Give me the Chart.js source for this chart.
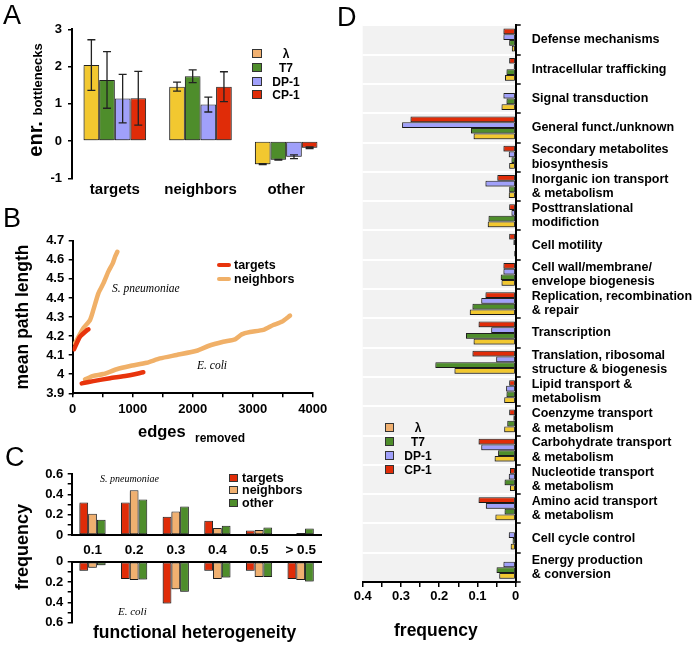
<!DOCTYPE html>
<html>
<head>
<meta charset="utf-8">
<title>Figure</title>
<script src="https://cdn.jsdelivr.net/npm/chart.js@4.4.1/dist/chart.umd.min.js"></script>
<style>
html,body{margin:0;padding:0;background:#fff;}
body{position:relative;width:697px;height:645px;overflow:hidden;font-family:"Liberation Sans",Arial,Helvetica,sans-serif;color:#000;}
canvas{position:absolute;}
.t{position:absolute;white-space:nowrap;line-height:1;font-weight:bold;}
.L{position:absolute;white-space:nowrap;line-height:1;font-weight:normal;font-size:27px;}
.it{position:absolute;white-space:nowrap;line-height:1;font-family:"Liberation Serif","Times New Roman",serif;font-style:italic;}
.sw{position:absolute;border:1px solid #333;box-sizing:border-box;}
.rot{position:absolute;white-space:nowrap;line-height:1;font-weight:bold;transform:translate(-50%,-50%) rotate(-90deg);}
.lg{position:absolute;white-space:nowrap;font-weight:bold;font-size:12px;line-height:14px;}
.ln{position:absolute;height:4px;border-radius:2px;}
</style>
</head>
<body>
<canvas id="cA" width="340" height="200" style="left:0;top:0"></canvas>
<canvas id="cB" width="340" height="245" style="left:0;top:200px"></canvas>
<canvas id="cC1" width="340" height="125" style="left:0;top:440px"></canvas>
<canvas id="cC2" width="340" height="90" style="left:0;top:545px"></canvas>
<canvas id="cD" width="357" height="645" style="left:340px;top:0"></canvas>

<!-- panel letters -->
<div class="L" style="left:3px;top:2px">A</div>
<div class="L" style="left:3px;top:204.5px">B</div>
<div class="L" style="left:5px;top:443.5px">C</div>
<div class="L" style="left:337px;top:3.5px">D</div>

<!-- axis titles -->
<div class="rot" style="left:35px;top:100px;font-size:20px">enr. <span style="font-size:13px">bottlenecks</span></div>
<div class="rot" style="left:23.3px;top:316.5px;font-size:17.5px">mean path length</div>
<div class="rot" style="left:22px;top:546.5px;font-size:18px">frequency</div>
<div class="t" style="left:138px;top:422.7px;font-size:16.5px">edges</div>
<div class="t" style="left:195px;top:431.5px;font-size:12px">removed</div>
<div class="t" style="left:93px;top:624.2px;font-size:17.5px">functional heterogeneity</div>
<div class="t" style="left:394px;top:621.5px;font-size:17.5px">frequency</div>

<!-- annotations -->
<div class="it" style="left:112px;top:283.1px;font-size:11.5px">S. pneumoniae</div>
<div class="it" style="left:197px;top:360.4px;font-size:11.5px">E. coli</div>
<div class="it" style="left:100px;top:473.5px;font-size:10px">S. pneumoniae</div>
<div class="it" style="left:118px;top:605.8px;font-size:11px">E. coli</div>

<!-- legend A -->
<div class="sw" style="left:252px;top:49px;width:10px;height:9px;background:#f0b070"></div>
<div class="lg" style="left:286px;top:46.5px;transform:translateX(-50%)">λ</div>
<div class="sw" style="left:252px;top:63px;width:10px;height:9px;background:#4e8d2b"></div>
<div class="lg" style="left:286px;top:60.5px;transform:translateX(-50%)">T7</div>
<div class="sw" style="left:252px;top:77px;width:10px;height:9px;background:#a0a0fa"></div>
<div class="lg" style="left:286px;top:74.5px;transform:translateX(-50%)">DP-1</div>
<div class="sw" style="left:252px;top:90px;width:10px;height:9px;background:#e02c08"></div>
<div class="lg" style="left:286px;top:87.5px;transform:translateX(-50%)">CP-1</div>

<!-- legend B -->
<div class="ln" style="left:217px;top:263px;width:14px;background:#e8340c"></div>
<div class="lg" style="left:234px;top:258px;font-size:12.5px">targets</div>
<div class="ln" style="left:217px;top:277px;width:14px;background:#f0b068"></div>
<div class="lg" style="left:234px;top:272px;font-size:12.5px">neighbors</div>

<!-- legend C -->
<div class="sw" style="left:229px;top:474px;width:9px;height:8px;background:#e02c08"></div>
<div class="lg" style="left:242px;top:471px;font-size:12.5px">targets</div>
<div class="sw" style="left:229px;top:486px;width:9px;height:8px;background:#f0b070"></div>
<div class="lg" style="left:242px;top:483px;font-size:12.5px">neighbors</div>
<div class="sw" style="left:229px;top:499px;width:9px;height:8px;background:#4e8d2b"></div>
<div class="lg" style="left:242px;top:496px;font-size:12.5px">other</div>

<!-- legend D -->
<div class="sw" style="left:385px;top:423px;width:9px;height:9px;background:#f0b070"></div>
<div class="lg" style="left:418px;top:420.5px;transform:translateX(-50%)">λ</div>
<div class="sw" style="left:385px;top:437px;width:9px;height:9px;background:#4e8d2b"></div>
<div class="lg" style="left:418px;top:434.5px;transform:translateX(-50%)">T7</div>
<div class="sw" style="left:385px;top:451px;width:9px;height:9px;background:#a0a0fa"></div>
<div class="lg" style="left:418px;top:448.5px;transform:translateX(-50%)">DP-1</div>
<div class="sw" style="left:385px;top:465px;width:9px;height:9px;background:#e02c08"></div>
<div class="lg" style="left:418px;top:462.5px;transform:translateX(-50%)">CP-1</div>

<script>
// ---------- Panel A data ----------
const catsA = ['targets', 'neighbors', 'other'];
const lambdaA = [2.04, 1.46, -0.62];
const t7A = [1.64, 1.74, -0.50];
const dp1A = [1.14, 0.98, -0.42];
const cp1A = [1.15, 1.46, -0.18];
const lambdaErrA = [0.68, 0.12, 0.01];
const t7ErrA = [0.76, 0.17, 0.01];
const dp1ErrA = [0.65, 0.20, 0.05];
const cp1ErrA = [0.72, 0.40, 0.02];

// ---------- Panel B data ----------
const spTargetsEdges = [22, 122, 243, 261];
const spTargetsLen = [4.131, 4.197, 4.232, 4.235];
const spNeighEdges = [38, 177, 288, 344, 428, 511, 594, 667, 706, 744];
const spNeighLen = [4.162, 4.241, 4.284, 4.337, 4.424, 4.476, 4.538, 4.581, 4.616, 4.642];
const ecTargetsEdges = [150, 343, 622, 900, 1177];
const ecTargetsLen = [3.952, 3.964, 3.979, 3.992, 4.010];
const ecNeighEdges = [205, 343, 510, 733, 955, 1233, 1455, 1733, 2067, 2260, 2510, 2705, 2817, 2955, 3177, 3343, 3483, 3622];
const ecNeighLen = [3.973, 3.991, 4.001, 4.026, 4.043, 4.060, 4.083, 4.101, 4.123, 4.148, 4.170, 4.183, 4.209, 4.221, 4.232, 4.258, 4.275, 4.307];

// ---------- Panel C data ----------
const catsC = ['0.1', '0.2', '0.3', '0.4', '0.5', '> 0.5'];
const spTargetsC = [0.32, 0.32, 0.18, 0.14, 0.045, 0.005];
const spNeighborsC = [0.21, 0.44, 0.23, 0.07, 0.05, 0.02];
const spOtherC = [0.15, 0.35, 0.28, 0.09, 0.075, 0.065];
const ecTargetsC = [0.09, 0.17, 0.41, 0.09, 0.09, 0.17];
const ecNeighborsC = [0.06, 0.18, 0.27, 0.17, 0.15, 0.18];
const ecOtherC = [0.035, 0.175, 0.295, 0.155, 0.15, 0.195];

// ---------- Panel D data ----------
const catsD = [
  'Defense mechanisms',
  'Intracellular trafficking',
  'Signal transduction',
  'General funct./unknown',
  ['Secondary metabolites', 'biosynthesis'],
  ['Inorganic ion transport', '& metabolism'],
  ['Posttranslational', 'modifiction'],
  'Cell motility',
  ['Cell wall/membrane/', 'envelope biogenesis'],
  ['Replication, recombination', '& repair'],
  'Transcription',
  ['Translation, ribosomal', 'structure & biogenesis'],
  ['Lipid transport &', 'metabolism'],
  ['Coenzyme transport', '& metabolism'],
  ['Carbohydrate transport', '& metabolism'],
  ['Nucleotide transport', '& metabolism'],
  ['Amino acid transport', '& metabolism'],
  'Cell cycle control',
  ['Energy production', '& conversion']
];
const cp1D = [0.032, 0.017, 0, 0.275, 0.032, 0.048, 0.017, 0.017, 0.032, 0.079, 0.097, 0.113, 0.017, 0.017, 0.097, 0.015, 0.097, 0, 0];
const dp1D = [0.032, 0.005, 0.032, 0.297, 0.018, 0.079, 0.011, 0.006, 0.032, 0.090, 0.064, 0.051, 0.025, 0.006, 0.090, 0.018, 0.078, 0.018, 0.032];
const t7D = [0.017, 0.024, 0.024, 0.117, 0.011, 0.017, 0.071, 0.002, 0.039, 0.113, 0.130, 0.210, 0.024, 0.022, 0.046, 0.029, 0.029, 0.008, 0.050];
const lambdaD = [0.010, 0.028, 0.037, 0.110, 0.017, 0.018, 0.073, 0.004, 0.037, 0.120, 0.110, 0.160, 0.030, 0.030, 0.055, 0.015, 0.053, 0.013, 0.043];

// ---------- styling ----------
const YEL = '#f2c830', GRN = '#4e8d2b', BLU = '#a0a0fa', RED = '#e02c08', ORA = '#f0b070';
const LRED = '#e8340c', LORA = '#f0b068';
Chart.defaults.font.family = '"Liberation Sans", Arial, Helvetica, sans-serif';
Chart.defaults.font.weight = 'bold';
Chart.defaults.color = '#000';

const shadowPlugin = {
  id: 'shadow',
  beforeDatasetsDraw(c) { const x = c.ctx; x.save(); x.shadowColor = 'rgba(0,0,0,0.35)'; x.shadowBlur = 2; x.shadowOffsetX = -1; x.shadowOffsetY = 1.5; },
  afterDatasetsDraw(c) { c.ctx.restore(); }
};
const errPlugin = {
  id: 'errbars',
  afterDatasetsDraw(chart) {
    const ctx = chart.ctx, ys = chart.scales.y;
    chart.data.datasets.forEach((ds, i) => {
      if (!ds.err) return;
      chart.getDatasetMeta(i).data.forEach((bar, j) => {
        const v = ds.data[j], e = ds.err[j];
        const y1 = ys.getPixelForValue(v + e), y2 = ys.getPixelForValue(v - e);
        ctx.save(); ctx.strokeStyle = '#222'; ctx.lineWidth = 1.3;
        ctx.beginPath();
        ctx.moveTo(bar.x, y1); ctx.lineTo(bar.x, y2);
        ctx.moveTo(bar.x - 4, y1); ctx.lineTo(bar.x + 4, y1);
        ctx.moveTo(bar.x - 4, y2); ctx.lineTo(bar.x + 4, y2);
        ctx.stroke(); ctx.restore();
      });
    });
  }
};
const bgPlugin = {
  id: 'bg',
  beforeDraw(c) { const a = c.chartArea, x = c.ctx; x.save(); x.fillStyle = '#f2f2f2'; x.fillRect(a.left, a.top, a.right - a.left, a.bottom - a.top); x.restore(); }
};
const barStyle = (d, cp) => Object.assign(d, { borderColor: '#222', borderWidth: 1, borderSkipped: false, barPercentage: 1, categoryPercentage: cp });
const noPlug = { legend: { display: false }, tooltip: { enabled: false } };
const yTickGrid = { drawOnChartArea: false, color: '#000', tickColor: '#000', tickLength: 4, lineWidth: 1.5 };
const axBorder = { color: '#000', width: 2 };

// ---------- Panel A ----------
new Chart(document.getElementById('cA'), {
  type: 'bar',
  data: { labels: catsA, datasets: [
    { label: 'λ', data: lambdaA, err: lambdaErrA, backgroundColor: YEL },
    { label: 'T7', data: t7A, err: t7ErrA, backgroundColor: GRN },
    { label: 'DP-1', data: dp1A, err: dp1ErrA, backgroundColor: BLU },
    { label: 'CP-1', data: cp1A, err: cp1ErrA, backgroundColor: RED }
  ].map(d => barStyle(d, 0.73)) },
  options: {
    responsive: false, animation: false,
    layout: { padding: { top: 29.3, right: 11, left: 0, bottom: 0 } },
    plugins: noPlug,
    scales: {
      x: { grid: { display: false, drawTicks: false }, border: { display: false },
           ticks: { font: { size: 15, weight: 'bold' }, padding: 3 }, afterFit: s => { s.height = 21.7; } },
      y: { min: -1, max: 3, ticks: { stepSize: 1, font: { size: 13, weight: 'bold' }, padding: 6 },
           grid: yTickGrid, border: axBorder, afterFit: s => { s.width = 72; } }
    }
  },
  plugins: [shadowPlugin, errPlugin]
});

// ---------- Panel B ----------
const pts = (xs, ys) => xs.map((x, i) => ({ x: x, y: ys[i] }));
const lineDs = (label, data, color) => ({ label, data, borderColor: color, borderWidth: 4.5, pointRadius: 0, borderCapStyle: 'round', borderJoinStyle: 'round', tension: 0.2, fill: false });
new Chart(document.getElementById('cB'), {
  type: 'line',
  data: { datasets: [
    lineDs('targets', pts(spTargetsEdges, spTargetsLen), LRED),
    lineDs('targets', pts(ecTargetsEdges, ecTargetsLen), LRED),
    lineDs('neighbors', pts(spNeighEdges, spNeighLen), LORA),
    lineDs('neighbors', pts(ecNeighEdges, ecNeighLen), LORA)
  ] },
  options: {
    responsive: false, animation: false,
    layout: { padding: { top: 40.7, right: 27.3, left: 0, bottom: 0 } },
    plugins: noPlug,
    scales: {
      x: { type: 'linear', min: 0, max: 4000,
           ticks: { stepSize: 500, autoSkip: false, maxRotation: 0, font: { size: 13, weight: 'bold' }, padding: 4,
                    callback: v => (v % 1000 === 0 ? String(v) : '') },
           grid: yTickGrid, border: axBorder, afterFit: s => { s.height = 51.7; } },
      y: { min: 3.9, max: 4.7,
           ticks: { stepSize: 0.1, font: { size: 13, weight: 'bold' }, padding: 4.5, callback: v => String(+v.toFixed(1)) },
           grid: yTickGrid, border: axBorder, afterFit: s => { s.width = 72.7; } }
    }
  }
});

// ---------- Panel C ----------
const evenTick = v => (Math.round(v * 10) % 2 === 0 ? String(Math.round(v * 10) / 10) : '');
new Chart(document.getElementById('cC1'), {
  type: 'bar',
  data: { labels: catsC, datasets: [
    { label: 'targets', data: spTargetsC, backgroundColor: RED },
    { label: 'neighbors', data: spNeighborsC, backgroundColor: ORA },
    { label: 'other', data: spOtherC, backgroundColor: GRN }
  ].map(d => barStyle(d, 0.63)) },
  options: {
    responsive: false, animation: false,
    layout: { padding: { top: 34, right: 18.5, left: 0, bottom: 0 } },
    plugins: noPlug,
    scales: {
      x: { grid: { display: false, drawTicks: false }, border: axBorder,
           ticks: { font: { size: 13.5, weight: 'bold' }, padding: 7 }, afterFit: s => { s.height = 30; } },
      y: { min: 0, max: 0.6, ticks: { stepSize: 0.1, autoSkip: false, font: { size: 13, weight: 'bold' }, padding: 4.5, callback: evenTick },
           grid: yTickGrid, border: axBorder, afterFit: s => { s.width = 71.7; } }
    }
  },
  plugins: [shadowPlugin]
});
new Chart(document.getElementById('cC2'), {
  type: 'bar',
  data: { labels: catsC, datasets: [
    { label: 'targets', data: ecTargetsC, backgroundColor: RED },
    { label: 'neighbors', data: ecNeighborsC, backgroundColor: ORA },
    { label: 'other', data: ecOtherC, backgroundColor: GRN }
  ].map(d => barStyle(d, 0.63)) },
  options: {
    responsive: false, animation: false,
    layout: { padding: { top: 0, right: 18.5, left: 0, bottom: 12.3 } },
    plugins: noPlug,
    scales: {
      x: { position: 'top', grid: { display: false, drawTicks: false }, border: axBorder,
           ticks: { display: false }, afterFit: s => { s.height = 16.7; } },
      y: { min: 0, max: 0.6, reverse: true, ticks: { stepSize: 0.1, autoSkip: false, font: { size: 13, weight: 'bold' }, padding: 4.5, callback: evenTick },
           grid: yTickGrid, border: axBorder, afterFit: s => { s.width = 71.7; } }
    }
  },
  plugins: [shadowPlugin]
});

// ---------- Panel D ----------
new Chart(document.getElementById('cD'), {
  type: 'bar',
  data: { labels: catsD, datasets: [
    { label: 'CP-1', data: cp1D, backgroundColor: RED },
    { label: 'DP-1', data: dp1D, backgroundColor: BLU },
    { label: 'T7', data: t7D, backgroundColor: GRN },
    { label: 'λ', data: lambdaD, backgroundColor: YEL }
  ].map(d => barStyle(d, 0.78)) },
  options: {
    indexAxis: 'y',
    responsive: false, animation: false,
    layout: { padding: { top: 25, right: 0, left: 22.7, bottom: 0 } },
    plugins: noPlug,
    scales: {
      x: { min: 0, max: 0.4, reverse: true,
           ticks: { stepSize: 0.05, autoSkip: false, maxRotation: 0, font: { size: 13, weight: 'bold' }, padding: 2,
                    callback: v => (Math.round(v * 100) % 10 === 0 ? String(Math.round(v * 10) / 10) : '') },
           grid: { drawOnChartArea: false, color: '#000', tickColor: '#000', tickLength: 5, lineWidth: 1.5 },
           border: axBorder, afterFit: s => { s.height = 63; } },
      y: { position: 'right',
           ticks: { autoSkip: false, crossAlign: 'near', padding: 11, font: { size: 12.5, weight: 'bold', lineHeight: 1.15 } },
           grid: { offset: true, drawOnChartArea: true, color: '#ffffff', lineWidth: 2, tickColor: '#000', tickWidth: 1.5, tickLength: 5 },
           border: axBorder, afterFit: s => { s.width = 181.3; } }
    }
  },
  plugins: [bgPlugin, shadowPlugin]
});
</script>
</body>
</html>
